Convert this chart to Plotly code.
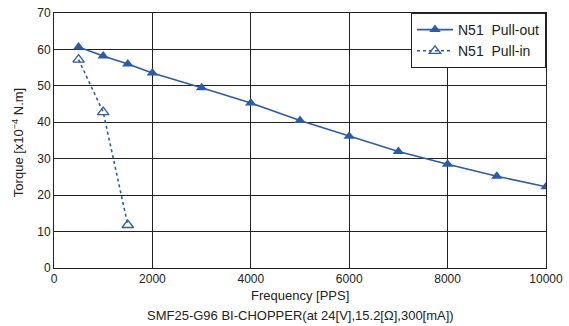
import plotly.graph_objects as go

# Pull-out torque curve
freq_out = [500, 1000, 1500, 2000, 3000, 4000, 5000, 6000, 7000, 8000, 9000, 10000]
torque_out = [60.7, 58.2, 56.0, 53.5, 49.5, 45.3, 40.5, 36.2, 32.0, 28.5, 25.2, 22.3]

# Pull-in torque curve
freq_in = [500, 1000, 1500]
torque_in = [57.2, 42.8, 11.8]

x_ticks = [0, 2000, 4000, 6000, 8000, 10000]
x_tick_text = ["0", "2000", "4000", "6000", "8000", "10000"]
y_ticks = [0, 10, 20, 30, 40, 50, 60, 70]

blue = "#2b5cab"
ink = "#222"
font_family = "Liberation Sans, Arial, sans-serif"

fig = go.Figure()
fig.add_trace(go.Scatter(
    x=freq_out, y=torque_out, mode="lines+markers",
    name="N51\u00a0\u00a0Pull-out",
    line=dict(color=blue, width=1.6),
    marker=dict(symbol="triangle-up", size=10, color=blue),
))
fig.add_trace(go.Scatter(
    x=freq_in, y=torque_in, mode="lines+markers",
    name="N51\u00a0\u00a0Pull-in",
    line=dict(color=blue, width=1.6, dash="dot"),
    marker=dict(symbol="triangle-up-open", size=10, color=blue, line=dict(width=1.3)),
))

axis_style = dict(
    ticks="", showgrid=True, gridcolor=ink, gridwidth=1,
    showline=True, linecolor=ink, linewidth=1, mirror=True,
    zeroline=False, automargin=False,
)

fig.update_layout(
    width=569, height=326,
    margin=dict(l=54, r=23, t=13, b=58),
    paper_bgcolor="white", plot_bgcolor="white",
    font=dict(family=font_family, size=12, color=ink),
    showlegend=True,
    legend=dict(
        x=1, y=1, xanchor="right", yanchor="top",
        bgcolor="white", bordercolor=ink, borderwidth=1,
        font=dict(size=14), itemwidth=36,
    ),
    xaxis=dict(range=[0, 10000], tickvals=x_ticks, ticktext=x_tick_text, **axis_style),
    yaxis=dict(range=[0, 70], tickvals=y_ticks, **axis_style),
    annotations=[
        # x-axis title
        dict(text="Frequency [PPS]", xref="paper", yref="paper",
             x=0.5, y=-0.106, xanchor="center", yanchor="middle",
             showarrow=False, font=dict(size=13, color=ink)),
        # y-axis title
        dict(text="Torque [x10<sup>\u22124</sup> N.m]", xref="paper", yref="paper",
             x=-0.073, y=0.49, xanchor="center", yanchor="middle", textangle=-90,
             showarrow=False, font=dict(size=13, color=ink)),
        # test condition caption
        dict(text="SMF25-G96 BI-CHOPPER(at 24[V],15.2[\u03a9],300[mA])",
             xref="paper", yref="paper", x=0.5, y=-0.188,
             xanchor="center", yanchor="middle", showarrow=False,
             font=dict(size=13, color=ink)),
    ],
)

fig.write_html("out.html")
